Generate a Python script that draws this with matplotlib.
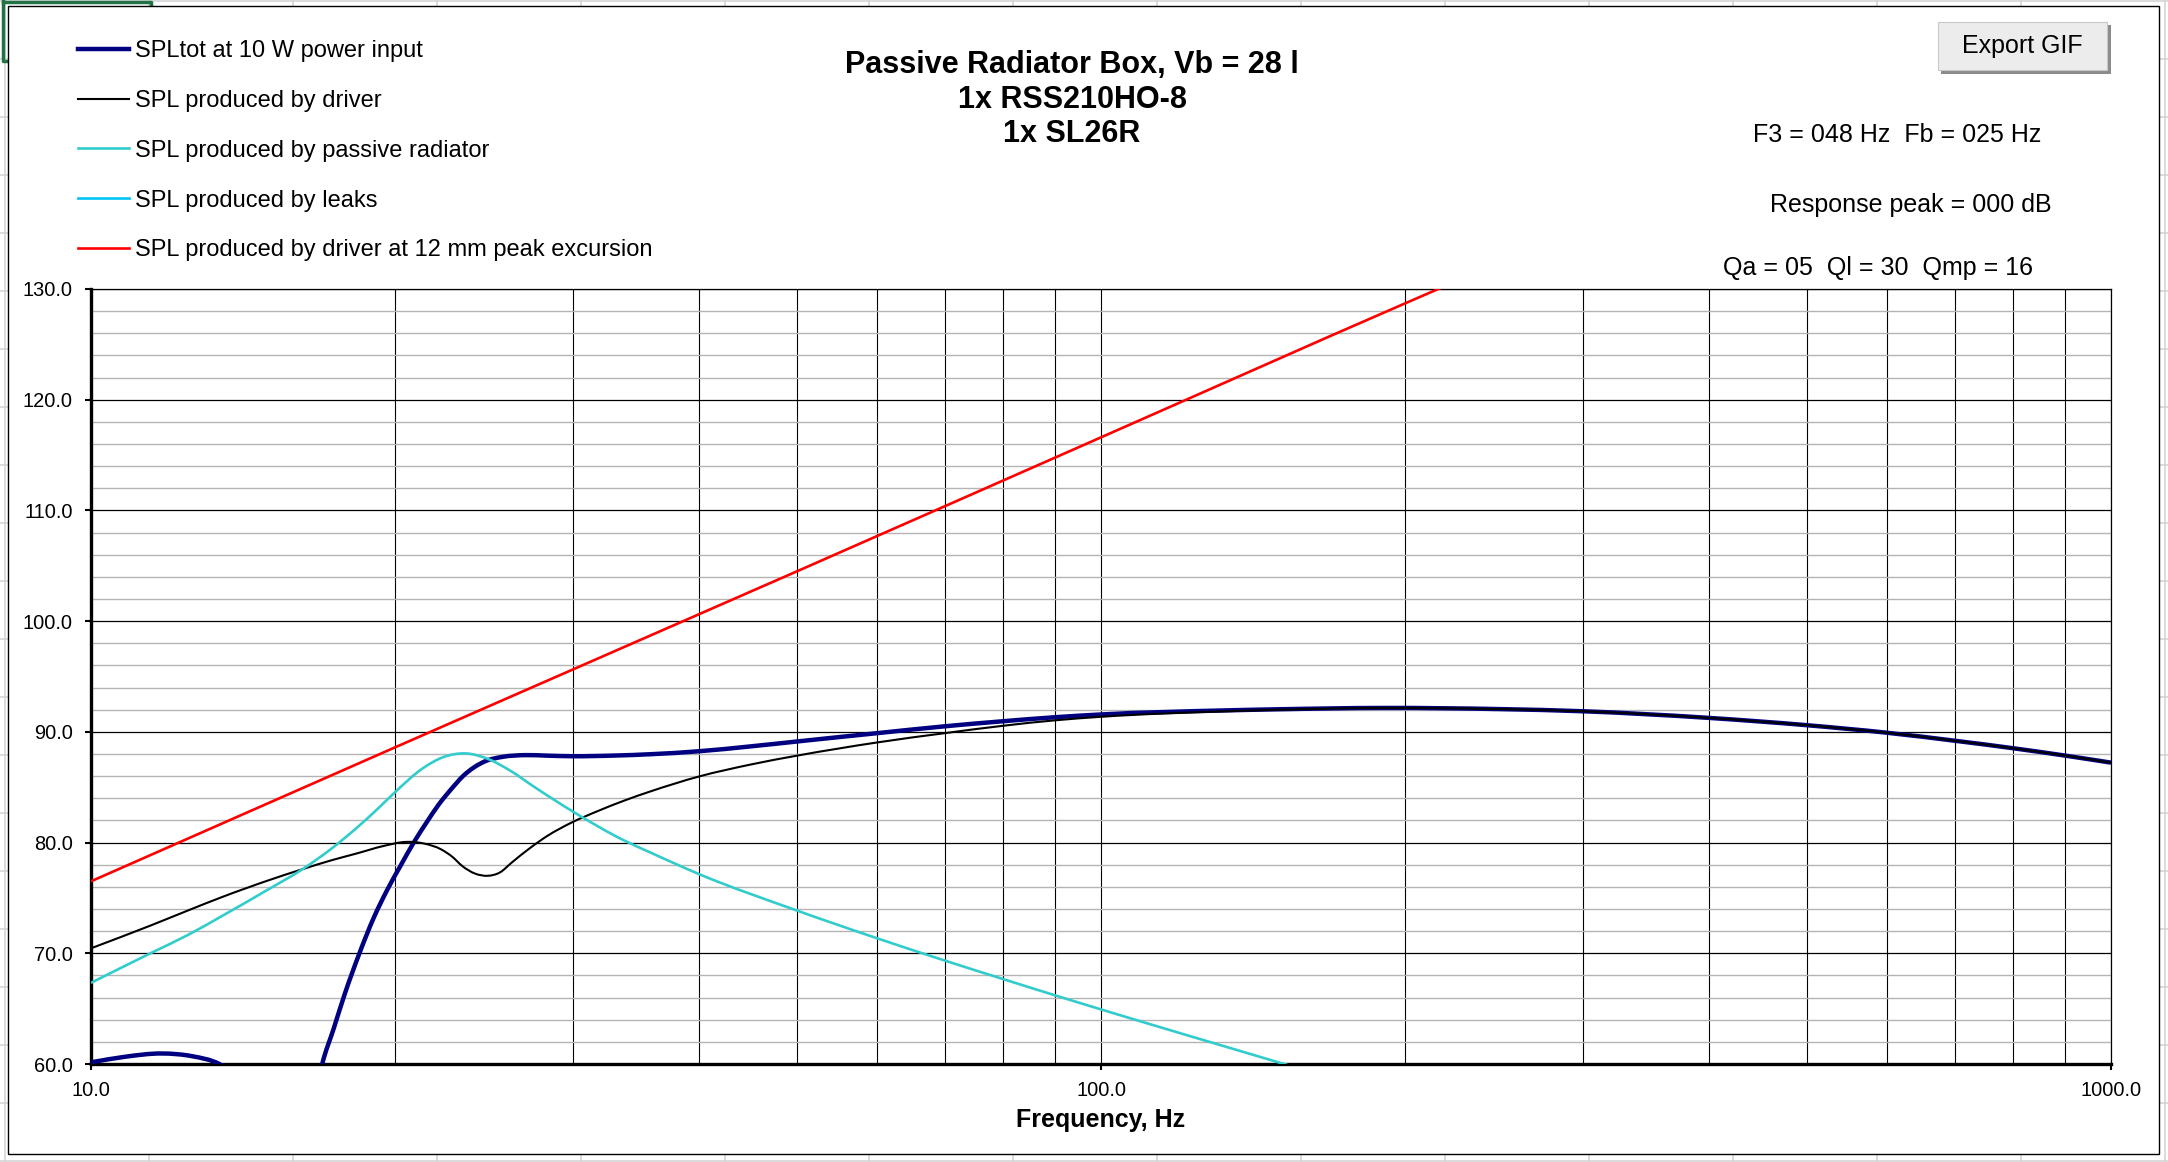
import numpy as np
import matplotlib.pyplot as plt
from matplotlib.patches import Rectangle, PathPatch
from matplotlib.path import Path
from matplotlib.lines import Line2D
from matplotlib.ticker import FixedLocator, NullFormatter

plt.rcParams["font.family"] = ["Liberation Sans", "DejaVu Sans"]

# values (frequency in Hz, SPL in dB)
freq_total = [10, 10.8, 11.75, 12.6, 13.4, 14.0, 15.0, 16.0, 16.5, 16.94, 17.39,
              17.83, 18.44, 19.05, 19.64, 20.25, 20.87, 21.52, 22.08, 22.77, 23.35,
              23.95, 24.57, 25.59, 26.93, 28.3, 29.9, 33.0, 35.8, 40, 45, 50, 60,
              70, 80, 90, 100, 133, 150, 190, 250, 300, 400, 500, 600, 700, 800,
              900, 1000]
spl_total = [60.15, 60.65, 60.95, 60.7, 60.0, 58.8, 55.0, 49.0, 55.0, 60.0, 63.2,
             66.3, 70.0, 73.2, 75.7, 77.9, 80.0, 81.9, 83.4, 84.9, 86.0,
             86.8, 87.35, 87.75, 87.9, 87.85, 87.8, 87.86, 87.98, 88.25, 88.69, 89.13,
             89.88, 90.5, 90.96, 91.32, 91.57, 91.94, 92.04, 92.16, 92.05, 91.86,
             91.26, 90.6, 89.92, 89.2, 88.52, 87.86, 87.22]

freq_driver = [10, 11.45, 12.5, 13.5, 15.0, 16.2, 17.3, 18.3, 19.5, 20.5, 21.4,
               22.2, 22.8, 23.3, 24.0, 24.7, 25.4, 26.1, 27.2, 28.3, 29.9, 31.8,
               33.7, 35.8, 40, 45, 50, 60, 70, 80, 90, 100, 133, 150, 190, 250,
               300, 400, 500, 600, 700, 800, 900, 1000]
spl_driver = [70.45, 72.5, 73.9, 75.1, 76.6, 77.6, 78.4, 79.0, 79.7, 80.06, 79.9,
              79.4, 78.7, 77.9, 77.2, 77.0, 77.3, 78.2, 79.5, 80.6, 81.8, 82.87,
              83.78, 84.62, 85.97, 87.05, 87.85, 89.04, 89.88, 90.55, 91.04, 91.36,
              91.86, 92.0, 92.16, 92.05, 91.86, 91.26, 90.6, 89.92, 89.2, 88.52,
              87.86, 87.22]

freq_pr = [10, 11.45, 12.5, 13.5, 15.0, 16.2, 17.3, 18.3, 19.2, 20.0, 21.3, 22.3,
           23.5, 24.8, 26.0, 27.5, 30.0, 33.7, 35.8, 40, 50, 60, 70, 80, 90, 100,
           111.8, 130, 151, 170]
spl_pr = [67.33, 70.0, 71.7, 73.4, 75.8, 77.6, 79.45, 81.28, 83.0, 84.55, 86.7, 87.7,
          88.05, 87.5, 86.5, 85.0, 82.8, 80.2, 79.1, 77.15, 73.86, 71.36, 69.35,
          67.67, 66.21, 64.93, 63.6, 61.82, 60.06, 58.65]

# leaks curve stays below the visible range
freq_leaks = []
spl_leaks = []

freq_xmax = [10, 20, 50, 100, 200, 230]
spl_xmax = [76.5, 88.6, 104.5, 116.6, 128.7, 131.1]

labels = ["SPLtot at 10 W power input",
          "SPL produced by driver",
          "SPL produced by passive radiator",
          "SPL produced by leaks",
          "SPL produced by driver at 12 mm peak excursion"]
colors = ["#000080", "black", "#33CCCC", "#00C4F4", "#FF0000"]
widths = [3.2, 1.5, 1.9, 1.9, 1.9]

title_lines = ["Passive Radiator Box, Vb = 28 l", "1x RSS210HO-8", "1x SL26R"]
info_lines = ["F3 = 048 Hz  Fb = 025 Hz", "Response peak = 000 dB",
              "Qa = 05  Ql = 30  Qmp = 16"]


def smooth_path(freq, spl):
    """Excel-style smoothed line: cubic Bezier segments through the points (log-x space)."""
    x = np.log10(np.asarray(freq, float))
    y = np.asarray(spl, float)
    h = np.diff(x)
    d = np.diff(y) / h
    m = np.empty_like(y)
    m[0], m[-1] = d[0], d[-1]
    m[1:-1] = (h[1:] * d[:-1] + h[:-1] * d[1:]) / (h[:-1] + h[1:])
    verts = [(x[0], y[0])]
    codes = [Path.MOVETO]
    for i in range(len(x) - 1):
        dx = h[i] / 3
        verts += [(x[i] + dx, y[i] + m[i] * dx),
                  (x[i + 1] - dx, y[i + 1] - m[i + 1] * dx),
                  (x[i + 1], y[i + 1])]
        codes += [Path.CURVE4] * 3
    verts = np.array(verts)
    verts[:, 0] = 10 ** verts[:, 0]
    return Path(verts, codes)


W, H = 2168, 1162
fig = plt.figure(figsize=(W / 100, H / 100), dpi=100)

# spreadsheet background + chart frame, in pixel coordinates
bg = fig.add_axes([0, 0, 1, 1], zorder=0)
bg.set_xlim(0, W)
bg.set_ylim(H, 0)
bg.axis("off")
for x in np.arange(5, W, 144):
    bg.plot([x, x], [0, H], color="#D4D4D4", lw=1.2, zorder=0.5)
for y in np.arange(1, H, 58):
    bg.plot([0, W], [y, y], color="#D4D4D4", lw=1.2, zorder=0.5)
bg.add_patch(Rectangle((8, 6), 2151, 1148, facecolor="white", edgecolor="black",
                       lw=1, zorder=1))
bg.plot([3, 3, 9], [0, 61, 61], color="#217346", lw=2.5, zorder=0.8)
bg.plot([3, 151, 151], [1.5, 1.5, 6], color="#217346", lw=2.5, zorder=0.8)

# Export GIF button
bg.add_patch(Rectangle((1941, 25), 170, 49, facecolor="#8C8C8C", edgecolor="none", zorder=2))
bg.add_patch(Rectangle((1938, 22), 169, 48, facecolor="#ECECEC", edgecolor="#C8C8C8",
                       lw=0.8, zorder=3))
bg.text(2022, 46, "Export GIF", ha="center", va="center", fontsize=18, zorder=4)

for i, line in enumerate(title_lines):
    bg.text(1072, 65 + 34.5 * i, line, ha="center", va="center",
            fontsize=22, fontweight="bold", zorder=4)

for (cx, cy), line in zip([(1897, 135), (1911, 205), (1878, 268)], info_lines):
    bg.text(cx, cy, line, ha="center", va="center", fontsize=18, zorder=4)

# plot area
left, right, top, bottom = 91, 2111, 289, 1064
ax = fig.add_axes([left / W, 1 - bottom / H, (right - left) / W, (bottom - top) / H], zorder=1)
ax.set_facecolor("white")

series = [(freq_total, spl_total), (freq_driver, spl_driver), (freq_pr, spl_pr),
          (freq_leaks, spl_leaks), (freq_xmax, spl_xmax)]
handles = []
for (f, s), c, lw, lab in zip(series, colors, widths, labels):
    if len(f) > 1:
        ax.add_patch(PathPatch(smooth_path(f, s), fill=False, edgecolor=c, lw=lw,
                               joinstyle="round", capstyle="butt", zorder=3))
    handles.append(Line2D([], [], color=c, lw=lw, label=lab))

ax.set_xscale("log")
ax.set_xlim(10, 1000)
ax.set_ylim(60, 130)
ax.set_xticks([10, 100, 1000])
ax.set_xticklabels(["10.0", "100.0", "1000.0"])
minor_x = [m * d for d in (10, 100) for m in range(2, 10)]
ax.xaxis.set_minor_locator(FixedLocator(minor_x))
ax.xaxis.set_minor_formatter(NullFormatter())
ax.set_yticks(np.arange(60, 131, 10))
ax.set_yticklabels([f"{v:.1f}" for v in np.arange(60, 131, 10)])
ax.yaxis.set_minor_locator(FixedLocator(np.arange(60, 131, 2)))

ax.set_axisbelow(True)
ax.grid(which="major", axis="y", color="black", lw=0.9)
ax.grid(which="minor", axis="y", color="#B4B4B4", lw=1.0)
ax.grid(which="both", axis="x", color="black", lw=0.8)

ax.tick_params(which="major", length=4, width=1.5, labelsize=14.4, direction="out")
ax.tick_params(axis="y", which="major", pad=9)
ax.tick_params(axis="x", which="major", pad=8)
ax.tick_params(which="minor", length=0)
for side in ("left", "bottom"):
    ax.spines[side].set_linewidth(2.4)
for side in ("top", "right"):
    ax.spines[side].set_linewidth(0.9)

ax.set_xlabel("Frequency, Hz", fontsize=18, fontweight="bold", labelpad=6)

ax.legend(handles=handles, loc="upper left",
          bbox_to_anchor=(78 / W, 1 - 40 / H), bbox_transform=fig.transFigure,
          frameon=False, fontsize=17, handlelength=2.15, handletextpad=0.25,
          labelspacing=1.18, borderpad=0, borderaxespad=0)

fig.savefig("out.png", dpi=100, facecolor="white")
